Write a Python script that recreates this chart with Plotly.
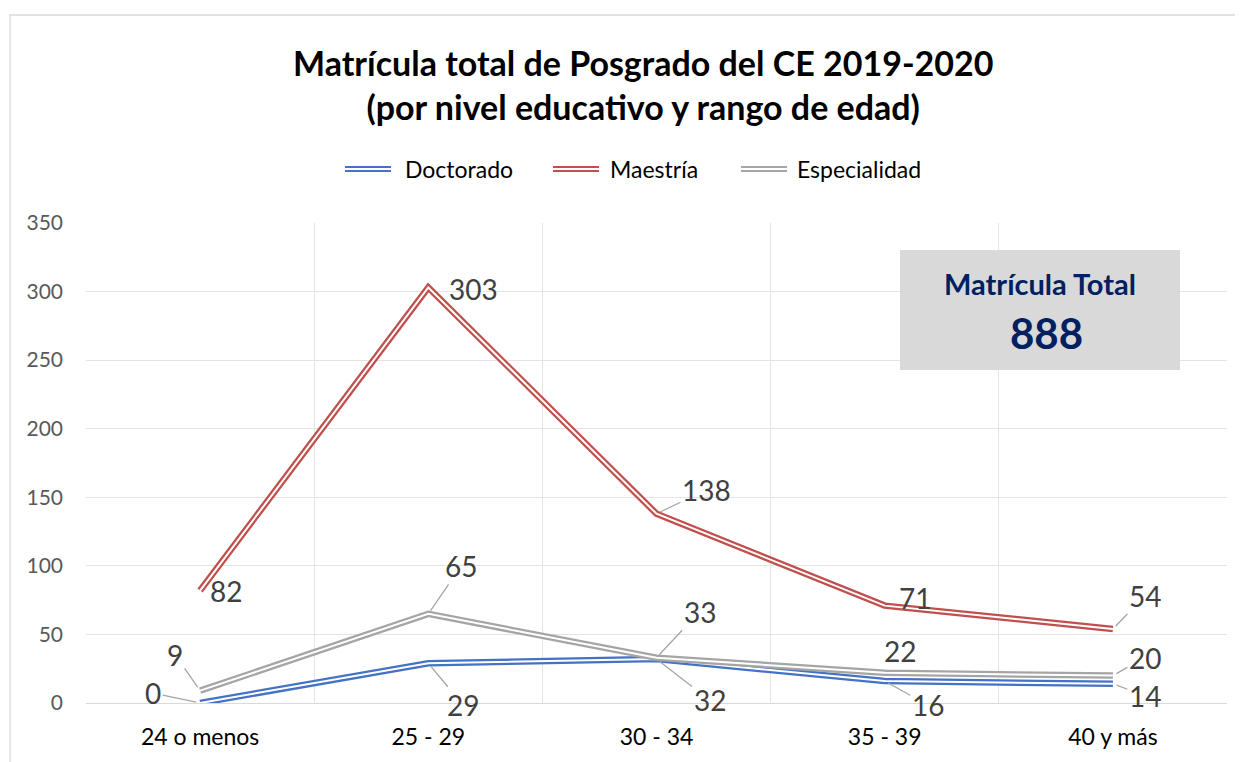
import plotly.graph_objects as go

categories = ["24 o menos", "25 - 29", "30 - 34", "35 - 39", "40 y más"]
doctorado = [0, 29, 32, 16, 14]
maestria = [82, 303, 138, 71, 54]
especialidad = [9, 65, 33, 22, 20]
y_ticks = [0, 50, 100, 150, 200, 250, 300, 350]
total_label = "Matrícula Total"
total_value = sum(doctorado) + sum(maestria) + sum(especialidad)

FONT = "Lato"
OFF = 8  # page body margin
W, H = 1243 - OFF, 762 - OFF
L, T = 86 - OFF, 223 - OFF
R = W - (1227 - OFF)
B = H - (703 - OFF)
PW, PH = W - L - R, H - T - B

def px(x):
    return (x - OFF - L) / PW

def py(y):
    return (H - B - (y - OFF)) / PH

series = [
    ("Doctorado", doctorado, "#4472C4"),
    ("Maestría", maestria, "#C0504D"),
    ("Especialidad", especialidad, "#A5A5A5"),
]

# label offsets (pixels, text centre relative to point) and whether a leader is drawn
label_style = {
    "Maestría": [(26, 0, False), (45, 2, False), (50, -24, True), (30, -8, False), (32, -33, True)],
    "Especialidad": [(-25, -36, True), (33, -48, True), (43, -46, True), (15, -22, False), (32, -18, True)],
    "Doctorado": [(-47, -10, True), (35, 42, True), (53, 41, True), (43, 24, True), (32, 12, True)],
}

fig = go.Figure()
for name, vals, color in series:
    fig.add_trace(go.Scatter(x=categories, y=vals, mode="lines", name=name,
                             line=dict(color=color, width=6.5), showlegend=False,
                             hoverinfo="skip"))
    fig.add_trace(go.Scatter(x=categories, y=vals, mode="lines", name=name,
                             line=dict(color="white", width=2), showlegend=False,
                             hoverinfo="skip"))

annotations = []
for name, vals, color in series:
    for cat, v, (ax, ay, leader) in zip(categories, vals, label_style[name]):
        annotations.append(dict(
            x=cat, y=v, text=str(v), showarrow=True, ax=ax, ay=ay,
            arrowhead=0, arrowwidth=1.3, standoff=4,
            arrowcolor="#A5A5A5" if leader else "rgba(0,0,0,0)",
            font=dict(family=FONT, size=28, color="#404040"),
        ))

# title
annotations.append(dict(
    xref="paper", yref="paper", x=px(643), y=py(84), xanchor="center", yanchor="middle",
    text="<b>Matrícula total de Posgrado del CE 2019-2020<br>(por nivel educativo y rango de edad)</b>",
    showarrow=False, font=dict(family=FONT, size=34, color="#000000"),
))

# manual legend with double lines
legend_items = [(345, 405, "Doctorado", "#4472C4"), (553, 610, "Maestría", "#C0504D"),
                (741, 797, "Especialidad", "#A5A5A5")]
shapes = []
for x0, tx, label, color in legend_items:
    for dy in (-2, 2):
        shapes.append(dict(type="line", xref="paper", yref="paper",
                           x0=px(x0), x1=px(x0 + 46), y0=py(169 + dy), y1=py(169 + dy),
                           line=dict(color=color, width=2)))
    annotations.append(dict(xref="paper", yref="paper", x=px(tx - 2), y=py(169),
                            xanchor="left", yanchor="middle", text=label, showarrow=False,
                            font=dict(family=FONT, size=23, color="#000000")))

# total box
shapes.append(dict(type="rect", xref="paper", yref="paper", x0=px(900), x1=px(1180),
                   y0=py(370), y1=py(250), fillcolor="#D9D9D9", line=dict(width=0), layer="above"))
annotations.append(dict(xref="paper", yref="paper", x=px(1040), y=py(283), xanchor="center",
                        yanchor="middle", text=f"<b>{total_label}</b>", showarrow=False,
                        font=dict(family=FONT, size=29, color="#002060")))
annotations.append(dict(xref="paper", yref="paper", x=px(1046), y=py(333), xanchor="center",
                        yanchor="middle", text=f"<b>{total_value}</b>", showarrow=False,
                        font=dict(family=FONT, size=42, color="#002060")))

# outer chart border
shapes.append(dict(type="rect", xref="paper", yref="paper", x0=px(10), x1=px(1270),
                   y0=py(790), y1=py(15), line=dict(color="#D9D9D9", width=1.3),
                   fillcolor="rgba(0,0,0,0)", layer="below"))

fig.update_layout(
    width=W, height=H, margin=dict(l=L, r=R, t=T, b=B),
    paper_bgcolor="white", plot_bgcolor="white",
    font=dict(family=FONT),
    annotations=annotations, shapes=shapes, showlegend=False,
    xaxis=dict(type="category", tickson="boundaries", showgrid=True, gridcolor="#E4E4E4",
               gridwidth=1, showline=True, linecolor="#D9D9D9", linewidth=1.3,
               ticks="", tickfont=dict(family=FONT, size=23, color="#000000"),
               ticklabelstandoff=13, range=[-0.5, 4.5], zeroline=False, fixedrange=True),
    yaxis=dict(range=[0, 350], tickvals=y_ticks, showgrid=True, gridcolor="#E4E4E4",
               gridwidth=1, zeroline=False, showline=False, ticks="",
               tickfont=dict(family=FONT, size=21, color="#595959"),
               ticklabelstandoff=22, fixedrange=True),
)

fig.write_html("out.html")
